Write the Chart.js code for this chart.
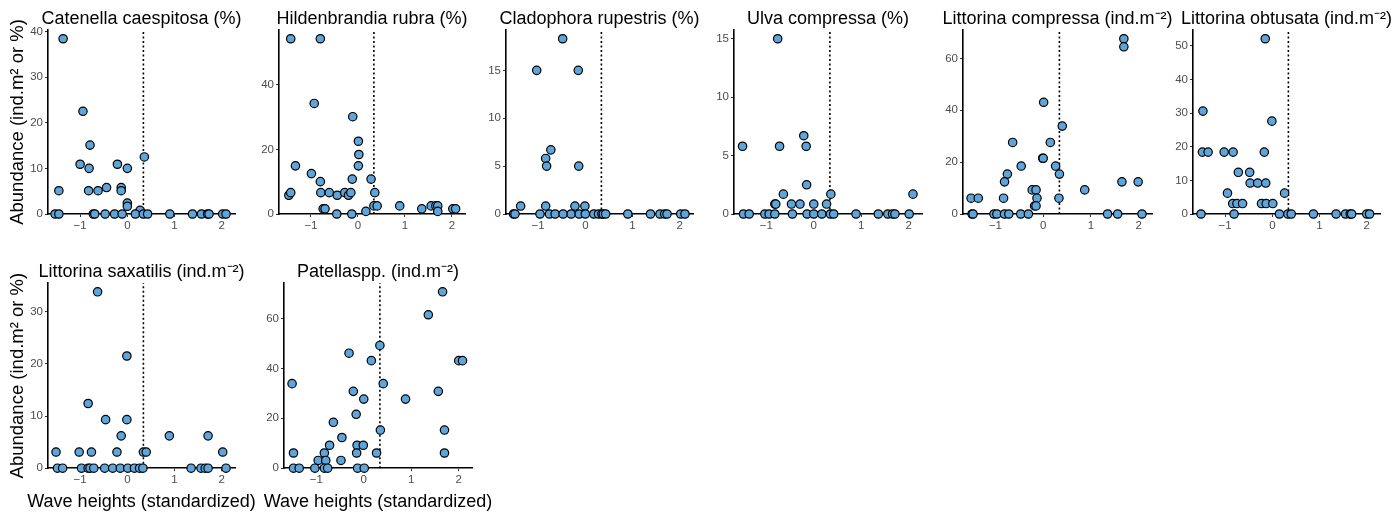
<!DOCTYPE html>
<html>
<head>
<meta charset="utf-8">
<script src="https://cdn.jsdelivr.net/npm/chart.js@4.4.0/dist/chart.umd.min.js"></script>
<style>
  html, body { margin: 0; padding: 0; background: #fff; overflow: hidden; }
  #wrap { position: relative; width: 1397px; height: 512px; }
  canvas { position: absolute; }
</style>
</head>
<body>
<div id="wrap"></div>
<script>
// wave height threshold (standardized) drawn as dotted line
var threshold = 0.34;
var xTicks = [-1, 0, 1, 2];

var catenellaX = [-1.36, -1.45, -0.94, -1.0, -0.79, -0.81, -0.82, -0.62, -0.44, -0.21, -0.13, -0.13, 0.0, 0.0, 0.0, 0.27, 0.36,
    -1.53, -1.45, -0.72, -0.69, -0.47, -0.27, -0.11, 0.17, 0.34, 0.43, 0.9, 1.38, 1.57, 1.7, 1.73, 2.02, 2.09];
var catenellaY = [38.4, 5.1, 22.5, 10.9, 15.1, 10, 5.1, 5.1, 5.8, 10.9, 5.8, 5.1, 10, 2.4, 1.7, 0.8, 12.5,
    0, 0, 0, 0, 0, 0, 0, 0, 0, 0, 0, 0, 0, 0, 0, 0, 0];
var catenellaTicks = [0, 10, 20, 30, 40];

var hildenX = [-1.43, -0.80, -0.93, -0.11, 0.01, 0.02, 0.01, -1.33, -0.99, -0.80, -0.12, 0.28, -1.47, -1.43, -0.79, -0.61, -0.44, -0.28,
    -0.20, -0.15, 0.36, -0.74, -0.70, -0.45, -0.13, 0.17, 0.34, 0.41, 0.89, 1.36, 1.56, 1.66, 1.70, 1.70, 2.02, 2.08];
var hildenY = [54.2, 54.2, 34.2, 30.1, 22.5, 18.4, 14.9, 14.9, 12.5, 10.0, 10.8, 10.8, 5.8, 6.6, 6.6, 6.6, 5.8, 6.6,
    5.8, 6.6, 6.6, 1.6, 1.6, 0, 0, 0.8, 2.5, 2.5, 2.5, 1.6, 2.5, 2.5, 2.5, 0.8, 1.6, 1.6];
var hildenTicks = [0, 20, 40];

var cladoX = [-0.48, -1.03, -0.15, -0.73, -0.84, -0.82, -0.14, -1.37, -0.84, -0.22, -0.01,
    -1.52, -1.49, -0.96, -0.76, -0.64, -0.47, -0.30, -0.13, 0, 0.18, 0.28, 0.35, 0.38, 0.43, 0.9, 1.38, 1.58, 1.68, 1.73, 2.02, 2.11];
var cladoY = [18.3, 15, 15, 6.7, 5.8, 5.0, 5.0, 0.83, 0.83, 0.83, 0.83,
    0, 0, 0, 0, 0, 0, 0, 0, 0, 0, 0, 0, 0, 0, 0, 0, 0, 0, 0, 0, 0];
var cladoTicks = [0, 5, 10, 15];

var ulvaX = [-0.76, -1.50, -0.72, -0.21, -0.16, -0.15, -0.64, 0.36, 2.09, -0.82, -0.80, -0.47, -0.29, 0.0, 0.27,
    -1.48, -1.36, -1.03, -0.94, -0.82, -0.45, -0.14, 0, 0.17, 0.35, 0.42, 0.89, 1.36, 1.56, 1.66, 1.71, 2.01];
var ulvaY = [15, 5.8, 5.8, 6.7, 5.8, 2.5, 1.7, 1.7, 1.7, 0.85, 0.85, 0.85, 0.85, 0.85, 0.85,
    0, 0, 0, 0, 0, 0, 0, 0, 0, 0, 0, 0, 0, 0, 0, 0, 0];
var ulvaTicks = [0, 5, 10, 15];

var compressaX = [1.69, 1.69, 0.01, 0.40, -0.64, 0.15, -0.01, 0.0, -0.46, 0.26, -0.75, 0.34, -0.81, 1.65, 1.99, -0.23, -0.15, 0.87,
    -1.51, -1.36, -0.83, -0.13, 0.33, -0.18, -0.15,
    -1.49, -1.47, -1.03, -0.97, -0.81, -0.72, -0.47, -0.31, 1.35, 1.56, 2.07];
var compressaY = [67.6, 64.5, 43.1, 33.9, 27.6, 27.6, 21.5, 21.5, 18.5, 18.5, 15.4, 15.4, 12.4, 12.4, 12.4, 9.3, 9.3, 9.3,
    6.1, 6.1, 6.1, 6.1, 6.1, 3.1, 3.1,
    0, 0, 0, 0, 0, 0, 0, 0, 0, 0, 0];
var compressaTicks = [0, 20, 40, 60];

var obtusataX = [-0.15, -1.47, -0.01, -1.48, -1.36, -1.02, -0.83, -0.17, -0.72, -0.48, -0.47, -0.31, -0.14, -0.95, 0.26,
    -0.84, -0.75, -0.63, -0.23, -0.13, 0.01,
    -1.51, -0.81, 0.15, 0.33, 0.40, 0.87, 1.35, 1.55, 1.65, 1.68, 2.0, 2.06];
var obtusataY = [52.1, 30.6, 27.6, 18.4, 18.4, 18.4, 18.4, 18.4, 12.4, 12.4, 9.2, 9.2, 9.2, 6.2, 6.2,
    3.1, 3.1, 3.1, 3.1, 3.1, 3.1,
    0, 0, 0, 0, 0, 0, 0, 0, 0, 0, 0, 0];
var obtusataTicks = [0, 10, 20, 30, 40, 50];

var saxatilisX = [-0.63, -0.01, -0.83, -0.46, -0.01, -0.13, 0.89, 1.71, -1.51, -1.02, -0.76, -0.22, 0.34, 0.40, 2.02,
    -1.48, -1.37, -0.97, -0.83, -0.79, -0.71, -0.48, -0.31, -0.15, 0.01, 0.15, 0.26, 0.33, 1.35, 1.56, 1.65, 1.71, 2.09];
var saxatilisY = [33.8, 21.5, 12.4, 9.3, 9.3, 6.2, 6.2, 6.2, 3.1, 3.1, 3.1, 3.1, 3.1, 3.1, 3.1,
    0, 0, 0, 0, 0, 0, 0, 0, 0, 0, 0, 0, 0, 0, 0, 0, 0, 0];
var saxatilisTicks = [0, 10, 20, 30];

var patellaX = [1.66, 1.36, 0.34, -0.31, 0.16, 2.0, 2.08, -1.51, 0.41, -0.22, 1.57, 0.0, 0.88, -0.16, -0.64, 0.35, 1.70,
    -0.46, -0.72, -0.14, -0.01, -1.48, -0.83, -0.15, 0.27, 1.70, -0.96, -0.80, -0.48,
    -1.48, -1.36, -1.03, -0.83, -0.76, -0.13, 0.01];
var patellaY = [70.7, 61.5, 49.2, 46.1, 43.1, 43.1, 43.1, 33.9, 33.9, 30.8, 30.8, 27.7, 27.7, 21.6, 18.4, 15.3, 15.3,
    12.3, 9.2, 9.2, 9.2, 6.1, 6.1, 6.1, 6.1, 6.1, 3.1, 3.1, 3.1,
    0, 0, 0, 0, 0, 0, 0];
var patellaTicks = [0, 20, 40, 60];

var panels = [
    {title: 'Catenella caespitosa (%)', x: catenellaX, y: catenellaY, ticks: catenellaTicks},
    {title: 'Hildenbrandia rubra (%)', x: hildenX, y: hildenY, ticks: hildenTicks},
    {title: 'Cladophora rupestris (%)', x: cladoX, y: cladoY, ticks: cladoTicks},
    {title: 'Ulva compressa (%)', x: ulvaX, y: ulvaY, ticks: ulvaTicks},
    {title: 'Littorina compressa (ind.m\u207B\u00B2)', x: compressaX, y: compressaY, ticks: compressaTicks},
    {title: 'Littorina obtusata (ind.m\u207B\u00B2)', x: obtusataX, y: obtusataY, ticks: obtusataTicks},
    {title: 'Littorina saxatilis (ind.m\u207B\u00B2)', x: saxatilisX, y: saxatilisY, ticks: saxatilisTicks},
    {title: 'Patellaspp. (ind.m\u207B\u00B2)', x: patellaX, y: patellaY, ticks: patellaTicks}
];

// plot area left/right edges, and row of each panel
var plotLeft = [48, 279, 506, 734, 963, 1193, 48, 284];
var plotRight = [235, 465, 693, 922, 1152, 1380, 235, 472];
var plotRow = [0, 0, 0, 0, 0, 0, 1, 1];

var FONT = "'Liberation Sans', Arial, Helvetica, sans-serif";
var AXW = 48;

function fmt(v) {
    return v < 0 ? '\u2212' + Math.abs(v) : String(v);
}

function drawPanel(i) {
    var p = panels[i];
    var row = plotRow[i];
    var first = (plotLeft[i] === 48);
    var plotW = plotRight[i] - plotLeft[i];
    var canvas = document.createElement('canvas');
    var w = plotW + AXW * 2;
    var h = row === 0 ? 234 : 260;
    canvas.width = w;
    canvas.height = h;
    canvas.style.left = (plotLeft[i] - AXW) + 'px';
    canvas.style.top = (row === 0 ? 0 : 253) + 'px';
    document.getElementById('wrap').appendChild(canvas);

    var pts = p.x.map(function(v, k) { return {x: v, y: p.y[k]}; });
    var yMax = Math.max.apply(null, p.y) * 1.05;

    new Chart(canvas.getContext('2d'), {
        type: 'scatter',
        data: {
            datasets: [{
                data: pts,
                backgroundColor: '#5DA5DA',
                borderColor: '#000',
                borderWidth: 1.2,
                pointRadius: 4.2,
                clip: false,
                order: 1
            }, {
                data: [{x: threshold, y: 0}, {x: threshold, y: yMax}],
                showLine: true,
                borderColor: '#000',
                borderWidth: 1.6,
                borderDash: [2, 2.5],
                pointRadius: 0,
                clip: false,
                order: 2
            }]
        },
        options: {
            responsive: false,
            animation: false,
            layout: {padding: 0},
            plugins: {
                legend: {display: false},
                tooltip: {enabled: false},
                title: {
                    display: true,
                    text: p.title,
                    color: '#000',
                    font: {family: FONT, size: 18, weight: 'normal', lineHeight: 1.2},
                    padding: {top: 8.4, bottom: 0}
                },
                subtitle: {
                    display: row === 1,
                    position: 'bottom',
                    text: 'Wave heights (standardized)',
                    color: '#000',
                    font: {family: FONT, size: 18, weight: 'normal', lineHeight: 1.2},
                    padding: {top: 3.2, bottom: 0}
                }
            },
            scales: {
                x: {
                    type: 'linear',
                    min: -1.68,
                    max: 2.28,
                    afterBuildTicks: function(s) { s.ticks = xTicks.map(function(v) { return {value: v}; }); },
                    afterFit: function(s) { s.height = 20; },
                    grid: {display: true, drawOnChartArea: false, drawTicks: true, tickLength: 3, color: '#333'},
                    border: {display: true, color: '#000', width: 1.6},
                    ticks: {
                        color: '#4D4D4D', font: {family: FONT, size: 11.5}, padding: 2,
                        autoSkip: false, maxRotation: 0, callback: fmt
                    }
                },
                y: {
                    type: 'linear',
                    min: 0,
                    max: yMax,
                    afterBuildTicks: function(s) { s.ticks = p.ticks.map(function(v) { return {value: v}; }); },
                    afterFit: function(s) { s.width = AXW; },
                    grid: {display: true, drawOnChartArea: false, drawTicks: true, tickLength: 3, color: '#333'},
                    border: {display: true, color: '#000', width: 1.6},
                    ticks: {color: '#4D4D4D', font: {family: FONT, size: 11.5}, padding: 2, callback: fmt},
                    title: {
                        display: first,
                        text: 'Abundance (ind.m\u00B2 or %)',
                        color: '#000',
                        font: {family: FONT, size: 18.5},
                        padding: {top: 6.8, bottom: 0}
                    }
                },
                yR: {
                    type: 'linear',
                    position: 'right',
                    display: true,
                    afterFit: function(s) { s.width = AXW; },
                    grid: {display: false, drawTicks: false},
                    border: {display: false},
                    ticks: {display: false}
                }
            }
        }
    });
}

for (var i = 0; i < panels.length; i++) {
    drawPanel(i);
}
</script>
</body>
</html>
